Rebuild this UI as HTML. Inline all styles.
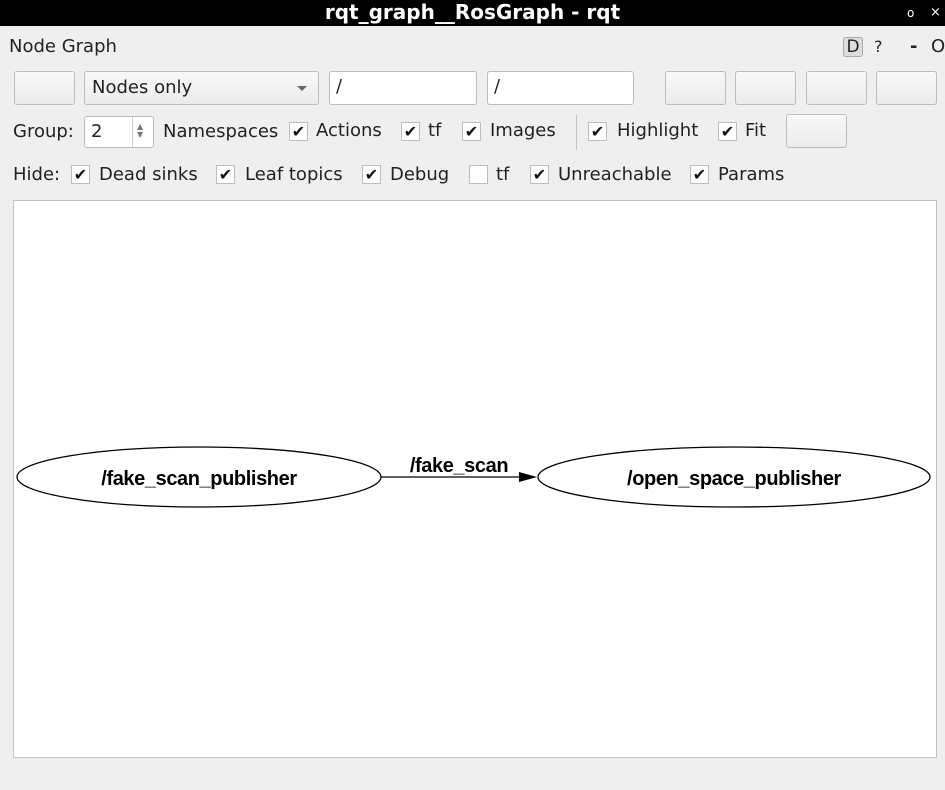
<!DOCTYPE html>
<html><head><meta charset="utf-8"><style>
body{margin:0;width:945px;height:790px;background:#efefef;font-family:"DejaVu Sans","Liberation Sans",sans-serif;font-size:18px;color:#222;position:relative;overflow:hidden}
.a{position:absolute;white-space:nowrap}
.btn{position:absolute;border:1px solid #bdbdbd;border-radius:3px;background:linear-gradient(#f8f8f8,#ececec);box-sizing:border-box}
.inp{position:absolute;border:1px solid #bdbdbd;border-radius:3px;background:#fff;box-sizing:border-box;padding-left:6px;line-height:30px}
.cb{position:absolute;width:19px;height:19px;border:1px solid #bdbdbd;background:#fff;box-sizing:border-box;font-size:16px;line-height:17px;text-align:center;font-weight:bold;color:#111}
.t{position:absolute;white-space:nowrap;line-height:20px}
</style></head><body>
<div class="a" style="left:0;top:0;width:945px;height:26px;background:#000"></div>
<div class="a" style="left:0;top:0;width:945px;text-align:center;color:#fff;font-weight:bold;font-size:20px;line-height:25px">rqt_graph__RosGraph - rqt</div>
<div class="a" style="left:907px;top:2px;color:#fff;font-size:12px;line-height:22px">o</div>
<div class="a" style="left:930px;top:2px;color:#fff;font-size:13px;line-height:22px">×</div>
<div class="t" style="left:9px;top:37px">Node Graph</div>
<div class="a" style="left:843px;top:37px;width:20px;height:20px;background:#ddd;border:1px solid #aaa;border-radius:3px;box-sizing:border-box;text-align:center;line-height:18px;font-size:17px">D</div>
<div class="t" style="left:874px;top:37px;font-size:16px">?</div>
<div class="t" style="left:910px;top:37px;font-weight:bold">-</div>
<div class="t" style="left:931px;top:37px">O</div>

<div class="btn" style="left:14px;top:71px;width:61px;height:34px"></div>
<div class="btn" style="left:84px;top:71px;width:235px;height:34px;padding-left:7px;line-height:32px">Nodes only<span style="position:absolute;left:212px;top:14px;border-left:5px solid transparent;border-right:5px solid transparent;border-top:5px solid #666"></span></div>
<div class="inp" style="left:329px;top:71px;width:148px;height:34px">/</div>
<div class="inp" style="left:487px;top:71px;width:147px;height:34px">/</div>
<div class="btn" style="left:665px;top:71px;width:61px;height:34px"></div>
<div class="btn" style="left:735px;top:71px;width:61px;height:34px"></div>
<div class="btn" style="left:806px;top:71px;width:61px;height:34px"></div>
<div class="btn" style="left:876px;top:71px;width:61px;height:34px"></div>

<div class="t" style="left:13px;top:122px">Group:</div>
<div class="inp" style="left:84px;top:116px;width:70px;height:32px;line-height:30px">2<span style="position:absolute;left:47px;top:0;width:1px;height:30px;background:#ccc"></span><span style="position:absolute;left:52px;top:6px;font-size:8px;line-height:8px;color:#777">▲<br>▼</span></div>
<div class="t" style="left:163px;top:122px">Namespaces</div>
<div class="cb" style="left:289px;top:122px">✔</div><div class="t" style="left:316px;top:121px">Actions</div>
<div class="cb" style="left:401px;top:122px">✔</div><div class="t" style="left:428px;top:121px">tf</div>
<div class="cb" style="left:462px;top:122px">✔</div><div class="t" style="left:490px;top:121px">Images</div>
<div class="a" style="left:576px;top:115px;width:1px;height:35px;background:#c4c4c4"></div>
<div class="cb" style="left:588px;top:122px">✔</div><div class="t" style="left:617px;top:121px">Highlight</div>
<div class="cb" style="left:718px;top:122px">✔</div><div class="t" style="left:745px;top:121px">Fit</div>
<div class="btn" style="left:786px;top:114px;width:61px;height:34px"></div>

<div class="t" style="left:13px;top:165px">Hide:</div>
<div class="cb" style="left:71px;top:165px">✔</div><div class="t" style="left:99px;top:165px">Dead sinks</div>
<div class="cb" style="left:216px;top:165px">✔</div><div class="t" style="left:245px;top:165px">Leaf topics</div>
<div class="cb" style="left:362px;top:165px">✔</div><div class="t" style="left:390px;top:165px">Debug</div>
<div class="cb" style="left:469px;top:165px"></div><div class="t" style="left:496px;top:165px">tf</div>
<div class="cb" style="left:530px;top:165px">✔</div><div class="t" style="left:558px;top:165px">Unreachable</div>
<div class="cb" style="left:690px;top:165px">✔</div><div class="t" style="left:718px;top:165px">Params</div>

<div class="a" style="left:13px;top:200px;width:924px;height:558px;background:#fff;border:1px solid #c2c2c2;box-sizing:border-box"></div>
<svg class="a" style="left:0;top:0" width="945" height="790">
<ellipse cx="199" cy="477" rx="182" ry="30" fill="none" stroke="#000" stroke-width="1.3"/>
<ellipse cx="734" cy="477" rx="196" ry="30" fill="none" stroke="#000" stroke-width="1.3"/>
<line x1="381" y1="477" x2="520" y2="477" stroke="#000" stroke-width="1.3"/>
<polygon points="519,472 537,477 519,482" fill="#000"/>
<g font-family="Liberation Sans,sans-serif" font-weight="bold" font-size="20" letter-spacing="-0.4" text-anchor="middle" fill="#000">
<text x="199" y="485">/fake_scan_publisher</text>
<text x="734" y="485">/open_space_publisher</text>
<text x="459" y="472">/fake_scan</text>
</g>
</svg>
</body></html>
